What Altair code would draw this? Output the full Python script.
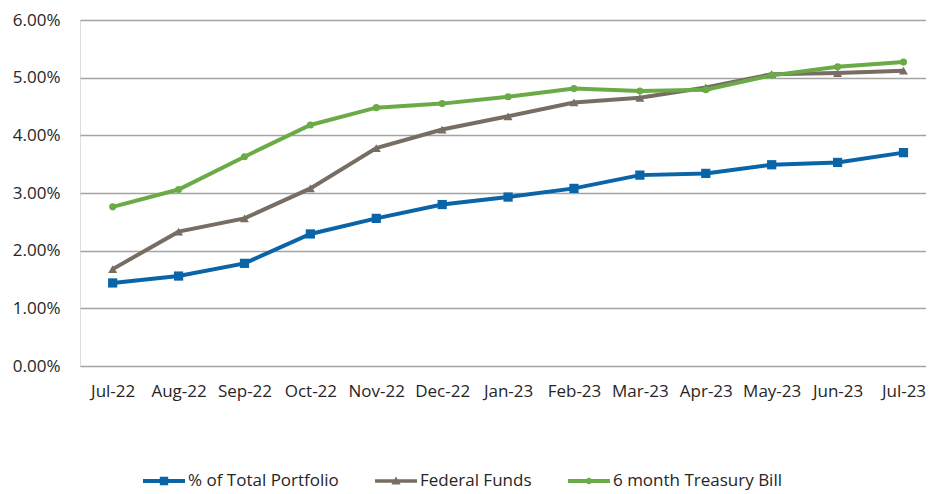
import altair as alt
import pandas as pd

months = ["Jul-22", "Aug-22", "Sep-22", "Oct-22", "Nov-22", "Dec-22", "Jan-23",
          "Feb-23", "Mar-23", "Apr-23", "May-23", "Jun-23", "Jul-23"]
series_names = ["% of Total Portfolio", "Federal Funds", "6 month Treasury Bill"]
portfolio = [1.44, 1.56, 1.78, 2.29, 2.56, 2.80, 2.93, 3.08, 3.31, 3.34, 3.49, 3.53, 3.70]
fed_funds = [1.68, 2.33, 2.56, 3.08, 3.78, 4.10, 4.33, 4.57, 4.65, 4.83, 5.06, 5.08, 5.12]
tbill_6m = [2.76, 3.06, 3.63, 4.18, 4.48, 4.55, 4.67, 4.81, 4.77, 4.79, 5.04, 5.19, 5.27]
y_ticks = [0, 1, 2, 3, 4, 5, 6]

colors = ["#0A64A8", "#776D62", "#6AAB47"]
marker_shapes = ["square", "triangle-up", "circle"]
# legend symbols: a short line with the series marker in the middle
legend_shapes = [
    "M-1,-0.095 H1 V0.095 H-1 Z M-0.2,-0.2 H0.2 V0.2 H-0.2 Z",
    "M-1,-0.085 H1 V0.085 H-1 Z M-0.22,0.17 L0,-0.22 L0.22,0.17 Z",
    "M-1,-0.095 H1 V0.095 H-1 Z M-0.15,0 A0.15,0.15 0 1,1 0.15,0 A0.15,0.15 0 1,1 -0.15,0 Z",
]

rows = []
for name, vals in zip(series_names, [portfolio, fed_funds, tbill_6m]):
    for m, v in zip(months, vals):
        rows.append({"month": m, "series": name, "value": v})
df = pd.DataFrame(rows)

FONT = "Open Sans"
TEXT = "#262626"

x_enc = alt.X("month:N", sort=months, title=None,
              scale=alt.Scale(type="point", padding=0.4188, align=0.592),
              axis=alt.Axis(labelAngle=0, ticks=False, domain=False, grid=False,
                            labelPadding=17, labelFontSize=17, labelFont=FONT,
                            labelColor=TEXT, labelBaseline="top"))
y_enc = alt.Y("value:Q", title=None,
              scale=alt.Scale(domain=[0, 6], nice=False),
              axis=alt.Axis(values=y_ticks, labelExpr="format(datum.value, '.2f') + '%'",
                            ticks=False, domain=False, grid=True, gridColor="#A3A3A3",
                            gridWidth=1.6, labelPadding=20, labelFontSize=17,
                            labelFont=FONT, labelColor=TEXT))

color_scale = alt.Scale(domain=series_names, range=colors)
base = alt.Chart(df)

lines = base.mark_line(strokeWidth=4).encode(
    x=x_enc, y=y_enc,
    stroke=alt.Stroke("series:N", scale=color_scale, legend=None),
    detail="series:N",
)

marker_layers = []
sizes = [85, 80, 50]
for name, shp, sz in zip(series_names, marker_shapes, sizes):
    marker_layers.append(
        base.transform_filter(alt.datum.series == name)
        .mark_point(filled=True, shape=shp, size=sz, opacity=1)
        .encode(
            x=x_enc, y=y_enc,
            fill=alt.Fill("series:N", scale=color_scale, legend=None),
        )
    )

# legend-only layer: no rows pass the filter, the legend comes from the scale domains
legend_layer = base.transform_filter("false").mark_point(filled=True, opacity=1, size=1764).encode(
    x=x_enc, y=y_enc,
    color=alt.Color("series:N", scale=color_scale,
                    legend=alt.Legend(title=None, orient="none", direction="horizontal",
                                      legendX=63, legendY=440, symbolSize=1764,
                                      symbolOpacity=1, symbolStrokeWidth=0,
                                      labelFont=FONT, labelFontSize=17, labelColor=TEXT,
                                      labelLimit=400, labelOffset=3, columnPadding=36,
                                      padding=0)),
    shape=alt.Shape("series:N", scale=alt.Scale(domain=series_names, range=legend_shapes)),
)

chart = alt.layer(legend_layer, lines, *marker_layers).properties(
    width=846, height=346,
    autosize=alt.AutoSizeParams(type="none"),
    padding={"left": 72, "top": 12, "right": 0, "bottom": 128},
).configure_view(stroke=None).configure(background="white")

chart.save("out.html", embed_options={"renderer": "svg", "actions": False})
